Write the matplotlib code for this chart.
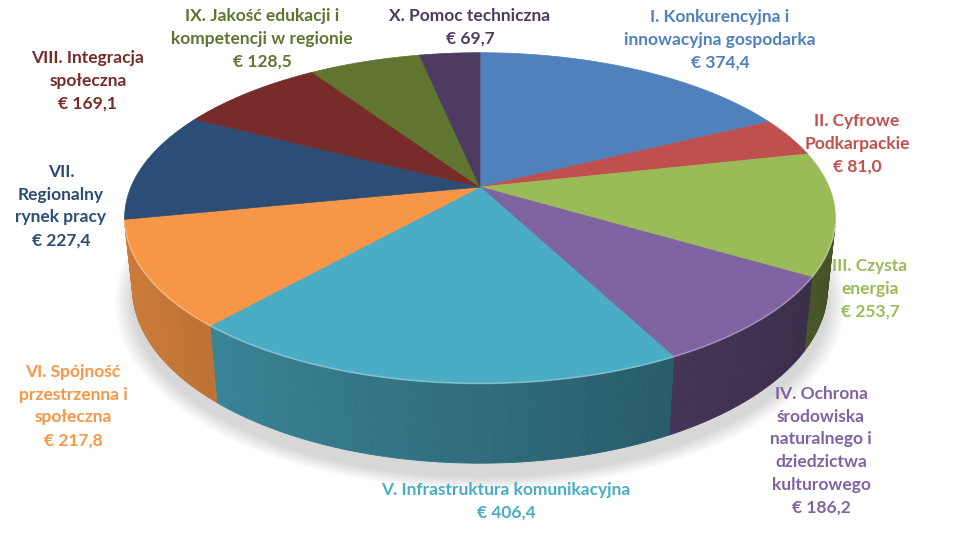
import numpy as np
import matplotlib
matplotlib.use('Agg')
import matplotlib.pyplot as plt
from matplotlib.patches import Polygon

# data (mln euro)
names = ['I. Konkurencyjna i\ninnowacyjna gospodarka',
         'II. Cyfrowe\nPodkarpackie',
         'III. Czysta\nenergia',
         'IV. Ochrona\nśrodowiska\nnaturalnego i\ndziedzictwa\nkulturowego',
         'V. Infrastruktura komunikacyjna',
         'VI. Spójność\nprzestrzenna i\nspołeczna',
         'VII.\nRegionalny\nrynek pracy',
         'VIII. Integracja\nspołeczna',
         'IX. Jakość edukacji i\nkompetencji w regionie',
         'X. Pomoc techniczna']
values = [374.4, 81.0, 253.7, 186.2, 406.4, 217.8, 227.4, 169.1, 128.5, 69.7]
colors = ['#4F81BD', '#C0504D', '#9BBB59', '#8064A2', '#4BACC6',
          '#F79646', '#2C4D75', '#772C2A', '#5F7530', '#4D3B62']

# label anchor (center x, top line y) in pixels
label_pos = [(720, 17), (857, 121), (870, 266), (821, 394), (506, 490),
             (73, 372), (61, 172), (88, 58), (262, 16), (470, 16)]

# perspective settings
CX, CY = 480, 187
elev = np.radians(27.2)
se, ce = np.sin(elev), np.cos(elev)
D = 4.73
F = 1651
H = 0.228


def proj(x, y, z):
    vy = y + D * ce
    vz = z - D * se
    yc = vy * se + vz * ce
    zc = vy * ce - vz * se
    return CX + F * x / zc, CY - F * yc / zc


def shade(c, f):
    rgb = np.array(matplotlib.colors.to_rgb(c))
    return tuple(np.clip(rgb * f, 0, 1))


fig = plt.figure(figsize=(9.56, 5.39), dpi=100)
ax = fig.add_axes([0, 0, 1, 1])
ax.set_xlim(0, 956)
ax.set_ylim(539, 0)
ax.axis('off')

total = sum(values)
bounds = np.concatenate([[0], np.cumsum(values)]) / total * 2 * np.pi

# soft shadow under the pie
th = np.linspace(0, 2 * np.pi, 300)
for k in np.linspace(1.045, 1.0, 8):
    sx, sy = proj(k * np.sin(th), k * np.cos(th) - 0.03, -H - 0.02)
    ax.add_patch(Polygon(np.column_stack([sx, sy]), closed=True,
                         fc='#000000', ec='none', alpha=0.018, zorder=1))

# sides (front facing part only)
for i in range(len(values)):
    t = np.linspace(bounds[i], bounds[i + 1], max(int(np.degrees(bounds[i + 1] - bounds[i])), 2) + 1)
    for a0, a1 in zip(t[:-1], t[1:]):
        am = 0.5 * (a0 + a1)
        if 1 + D * ce * np.cos(am) >= 0.02:
            continue
        xs = [np.sin(a0), np.sin(a1), np.sin(a1), np.sin(a0)]
        ys = [np.cos(a0), np.cos(a1), np.cos(a1), np.cos(a0)]
        zs = [0, 0, -H, -H]
        px, py = proj(np.array(xs), np.array(ys), np.array(zs))
        col = shade(colors[i], 0.63 - 0.2 * np.sin(am))
        ax.add_patch(Polygon(np.column_stack([px, py]), closed=True,
                             fc=col, ec=col, lw=0.6, zorder=2))

# top wedges
for i in range(len(values)):
    t = np.linspace(bounds[i], bounds[i + 1], 120)
    px, py = proj(np.sin(t), np.cos(t), 0 * t)
    ax.add_patch(Polygon(np.column_stack([np.r_[CX, px], np.r_[CY, py]]), closed=True,
                         fc=colors[i], ec=colors[i], lw=0.5, zorder=3))

# light rim on the front edge
t = np.linspace(np.radians(104), np.radians(256), 200)
px, py = proj(np.sin(t), np.cos(t), 0 * t)
ax.plot(px, py, color='white', alpha=0.3, lw=1.2, zorder=4)

for i in range(len(values)):
    x, y = label_pos[i]
    for j, line in enumerate(names[i].split('\n') + ['€ ' + f'{values[i]:.1f}'.replace('.', ',')]):
        ax.text(x, y + j * 22.7, line, ha='center', va='center', color=colors[i],
                fontsize=12.5, fontweight='bold', family=['Lato', 'DejaVu Sans'], zorder=5)

fig.savefig('out.png', dpi=100)
